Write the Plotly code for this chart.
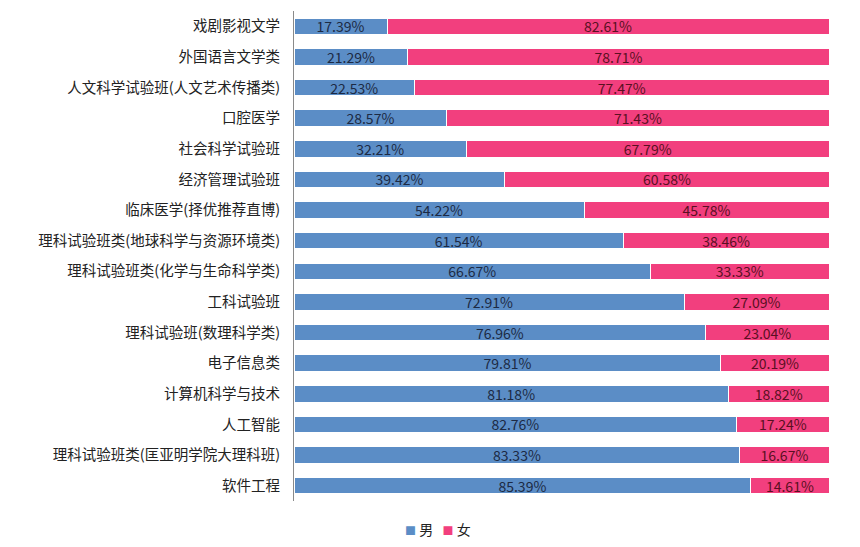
import plotly.graph_objects as go

categories = ["戏剧影视文学", "外国语言文学类", "人文科学试验班(人文艺术传播类)", "口腔医学",
              "社会科学试验班", "经济管理试验班", "临床医学(择优推荐直博)",
              "理科试验班类(地球科学与资源环境类)", "理科试验班类(化学与生命科学类)",
              "工科试验班", "理科试验班(数理科学类)", "电子信息类", "计算机科学与技术",
              "人工智能", "理科试验班类(匡亚明学院大理科班)", "软件工程"]
male = [17.39, 21.29, 22.53, 28.57, 32.21, 39.42, 54.22, 61.54, 66.67, 72.91,
        76.96, 79.81, 81.18, 82.76, 83.33, 85.39]
female = [82.61, 78.71, 77.47, 71.43, 67.79, 60.58, 45.78, 38.46, 33.33, 27.09,
          23.04, 20.19, 18.82, 17.24, 16.67, 14.61]
series_names = ["男", "女"]
colors = ["#5b8dc6", "#f23f7e"]

font_family = "Noto Sans CJK SC, Microsoft YaHei, sans-serif"

fig = go.Figure()
fig.add_trace(go.Bar(
    y=categories, x=male, name=series_names[0], orientation="h", showlegend=False,
    marker=dict(color=colors[0], line=dict(color="white", width=1)),
    text=[f"{v:.2f}%" for v in male], textposition="inside",
    insidetextanchor="middle", textangle=0,
    textfont=dict(color="#1c2a44", size=14, family=font_family),
))
fig.add_trace(go.Bar(
    y=categories, x=female, name=series_names[1], orientation="h", showlegend=False,
    marker=dict(color=colors[1], line=dict(color="white", width=1)),
    text=[f"{v:.2f}%" for v in female], textposition="inside",
    insidetextanchor="middle", textangle=0,
    textfont=dict(color="#5a1022", size=14, family=font_family),
))

legend_text = (f"<span style='color:{colors[0]};font-size:11px'>■</span> {series_names[0]}"
               f"   <span style='color:{colors[1]};font-size:11px'>■</span> {series_names[1]}")
fig.add_annotation(text=legend_text, xref="paper", yref="paper", x=0.27, y=-0.058,
                   xanchor="center", yanchor="middle", showarrow=False,
                   font=dict(size=14, color="#222", family=font_family))

fig.update_layout(
    barmode="stack", bargap=0.46,
    width=860, height=547,
    margin=dict(l=286, r=39, t=3, b=54),
    paper_bgcolor="white", plot_bgcolor="white",
    font=dict(family=font_family, size=14, color="#222"),
    uniformtext=dict(minsize=14, mode="show"),
    xaxis=dict(range=[0, 100], visible=False),
    yaxis=dict(categoryorder="array", categoryarray=categories[::-1],
               showline=True, linecolor="#8a8a8a", linewidth=1,
               ticks="outside", ticklen=10, tickcolor="rgba(0,0,0,0)",
               tickfont=dict(size=14.5, color="#222"), showgrid=False,
               automargin=False),
)
fig.write_html("out.html")
